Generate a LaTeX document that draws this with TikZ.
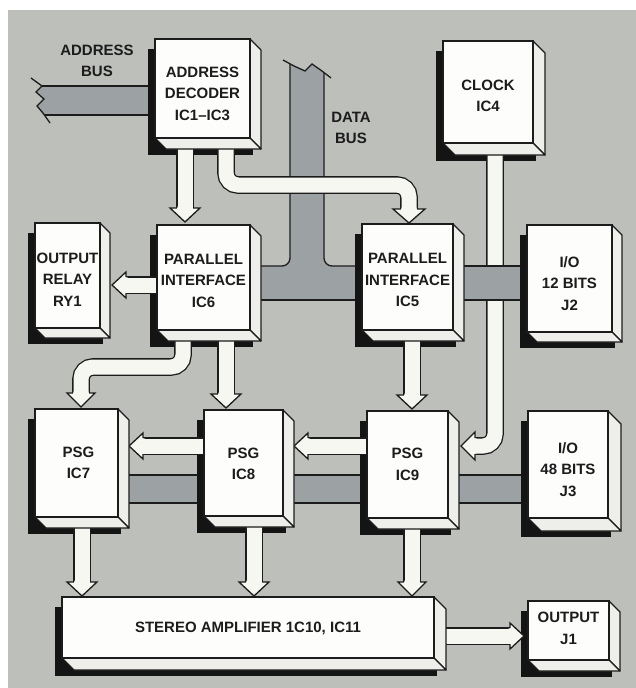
\documentclass[tikz,border=0pt]{standalone}
\usepackage{fontspec}
\setmainfont{Liberation Sans}
\usetikzlibrary{fit}
\pgfdeclarelayer{back}
\pgfdeclarelayer{bus}
\pgfdeclarelayer{shad}
\pgfdeclarelayer{arr}
\pgfsetlayers{back,bus,shad,arr,main}
\definecolor{bgc}{RGB}{189,191,187}
\definecolor{busc}{RGB}{156,162,164}
\definecolor{facec}{RGB}{253,253,251}
\definecolor{sidec}{RGB}{238,238,234}
\definecolor{arrc}{RGB}{247,247,241}
\definecolor{inkc}{RGB}{28,28,28}
\tikzset{
 front/.style={fill=facec, draw=inkc, line width=1.3pt, inner sep=0pt, outer sep=0pt},
 face/.style={fill=sidec, draw=inkc, line width=1.2pt, line join=round},
 lbl/.style={font=\bfseries\fontsize{15}{21.5}\selectfont, align=center, text=inkc, inner sep=0pt},
 busline/.style={draw=inkc, line width=1.3pt},
 pipe/.style={draw=inkc, line width=1.3pt, double=arrc, double distance=15pt, rounded corners=12pt},
 headline/.style={draw=inkc, line width=1.3pt, line join=miter},
}
% #1 name, #2 x1, #3 y1, #4 x2, #5 y2, #6 depth
\newcommand\chip[6]{%
  \begin{pgfonlayer}{shad}
    \fill[black!92] (#2-7,#3+10) rectangle (#4+3,#5+#6+6);
  \end{pgfonlayer}
  \filldraw[face] (#4,#3) -- (#4+#6,#3+#6) -- (#4+#6,#5+#6) -- (#4,#5) -- cycle;
  \filldraw[face] (#2,#5) -- (#4,#5) -- (#4+#6,#5+#6) -- (#2+#6,#5+#6) -- cycle;
  \node[front, fit={(#2,#3) (#4,#5)}] (#1) {};
}
% #1 tip, #2 rotation, #3 half width, #4 length
\newcommand\fhead[4]{%
  \path (#1) coordinate (fhtip);
  \begin{scope}[shift={(fhtip)}, rotate=#2]
    \fill[arrc] (-7.7,-#4-1.5) -- (-7.7,-#4) -- (-#3,-#4) -- (0,0) -- (#3,-#4) -- (7.7,-#4) -- (7.7,-#4-1.5) -- cycle;
    \draw[headline] (-8.15,-#4) -- (-#3,-#4) -- (0,0) -- (#3,-#4) -- (8.15,-#4);
  \end{scope}}
\begin{document}
\begin{tikzpicture}[x=1pt,y=-1pt]
\useasboundingbox (0,0) rectangle (636,688);
\begin{pgfonlayer}{back}
  \fill[white] (0,0) rectangle (636,688);
  \fill[bgc] (8,10) rectangle (636,688);
\end{pgfonlayer}
% ---------------- buses ----------------
\begin{pgfonlayer}{bus}
  % address bus
  \fill[busc] (42,86) -- (156,86) -- (156,115) -- (43,115) -- (37,106) -- (44,99) -- (36,92) -- cycle;
  \draw[busline] (42,86) -- (156,86) (45,115) -- (156,115);
  \draw[busline] (31,78) -- (42,86) -- (36,92) -- (44,99) -- (37,106) -- (43,113) -- (50,123);
  % data bus
  \fill[busc, rounded corners=8pt] (290,120) -- (290,266) -- (252,266) -- (252,300) -- (535,300) -- (535,266) -- (324,266) -- (324,120) -- cycle;
  \fill[busc] (290,65) -- (294,66) -- (305,71) -- (312,64) -- (322,71) -- (324,72.5) -- (324,130) -- (290,130) -- cycle;
  \draw[busline, rounded corners=8pt] (290,64) -- (290,266) -- (252,266);
  \draw[busline, rounded corners=8pt] (324,73) -- (324,266) -- (535,266);
  \draw[busline] (252,300) -- (535,300);
  \draw[busline] (283,60) -- (294,66) -- (305,71) -- (312,64) -- (322,71) -- (331,78);
  % PSG bus
  \fill[busc] (122,475) rectangle (530,503);
  \draw[busline] (122,475) -- (530,475) (122,503) -- (530,503);
\end{pgfonlayer}
% ---------------- chips ----------------
\chip{dec}{155}{39}{250}{138}{11}
\chip{clk}{443}{41}{533}{143}{12}
\chip{rly}{35}{223}{100}{328}{10}
\chip{ic6}{157}{225}{250}{330}{11}
\chip{ic5}{362}{224}{453}{330}{11}
\chip{j2}{527}{225}{612}{332}{10}
\chip{ic7}{35}{409}{118}{517}{11}
\chip{ic8}{204}{410}{283}{516}{11}
\chip{ic9}{367}{411}{448}{518}{11}
\chip{j3}{528}{411}{608}{518}{13}
\chip{amp}{62}{597}{434}{658}{12}
\chip{j1}{528}{601}{609}{660}{11}
% ---------------- arrows ----------------
\begin{pgfonlayer}{arr}
  % clock -> IC9 (passes under the I/O bus)
  \draw[pipe] ([xshift=52pt]clk.south west) |- ([xshift=27pt,yshift=-35pt]ic9.north east);
  \fhead{[xshift=13pt,yshift=-35pt]ic9.north east}{-90}{14}{14}
  \fill[busc] (462,266) rectangle (520,300);
  \draw[busline] (462,266) -- (520,266) (462,300) -- (520,300);
  % decoder -> IC6
  \draw[pipe] ([xshift=30pt]dec.south west) -- ([xshift=28pt,yshift=17pt]ic6.north west);
  \fhead{[xshift=28pt,yshift=3pt]ic6.north west}{0}{15}{14}
  % decoder -> IC5
  \draw[pipe] ([xshift=71pt]dec.south west) -- ++(0,47) -| ([xshift=47pt,yshift=15pt]ic5.north west);
  \fhead{[xshift=47pt,yshift=1pt]ic5.north west}{0}{16}{14}
  % IC6 -> relay
  \draw[pipe] ([yshift=-60pt]ic6.north west) -- ([xshift=91pt,yshift=-62pt]rly.north west);
  \fhead{[xshift=77pt,yshift=-62pt]rly.north west}{-90}{13}{14}
  % IC6 -> IC7
  \draw[pipe] ([xshift=26pt]ic6.south west) -- ++(0,37) -| ([xshift=46pt,yshift=16pt]ic7.north west);
  \fhead{[xshift=46pt,yshift=2pt]ic7.north west}{0}{14}{14}
  % IC6 -> IC8
  \draw[pipe] ([xshift=69pt]ic6.south west) -- ([xshift=22pt,yshift=16pt]ic8.north west);
  \fhead{[xshift=22pt,yshift=2pt]ic8.north west}{0}{15}{14}
  % IC5 -> IC9
  \draw[pipe] ([xshift=50pt]ic5.south west) -- ([xshift=45pt,yshift=16pt]ic9.north west);
  \fhead{[xshift=45pt,yshift=2pt]ic9.north west}{0}{15}{14}
  % IC9 -> IC8
  \draw[pipe] ([yshift=-35pt]ic9.north west) -- ([xshift=25pt,yshift=-36pt]ic8.north east);
  \fhead{[xshift=11pt,yshift=-36pt]ic8.north east}{-90}{13}{14}
  % IC8 -> IC7
  \draw[pipe] ([yshift=-36pt]ic8.north west) -- ([xshift=25pt,yshift=-37pt]ic7.north east);
  \fhead{[xshift=11pt,yshift=-37pt]ic7.north east}{-90}{13}{14}
  % PSGs -> amplifier
  \draw[pipe] ([xshift=47pt]ic7.south west) -- ([xshift=20pt,yshift=15pt]amp.north west);
  \fhead{[xshift=20pt,yshift=1pt]amp.north west}{0}{15}{14}
  \draw[pipe] ([xshift=50pt]ic8.south west) -- ([xshift=192pt,yshift=15pt]amp.north west);
  \fhead{[xshift=192pt,yshift=1pt]amp.north west}{0}{15}{14}
  \draw[pipe] ([xshift=45pt]ic9.south west) -- ([xshift=350pt,yshift=15pt]amp.north west);
  \fhead{[xshift=350pt,yshift=1pt]amp.north west}{0}{14}{14}
  % amplifier -> output
  \draw[pipe] ([yshift=-39pt]amp.north east) -- ([xshift=-18pt,yshift=-35pt]j1.north west);
  \fhead{[xshift=-4pt,yshift=-35pt]j1.north west}{90}{13}{14}
\end{pgfonlayer}
% ---------------- labels ----------------
\node[lbl] (albl) at (97,61) {ADDRESS\\BUS};
\node[lbl] (dlbl) at (351,128) {DATA\\BUS};
\node[lbl] at ([yshift=-5pt]dec.center) {ADDRESS\\DECODER\\IC1–IC3};
\node[lbl] at ([yshift=-4pt]clk.center) {CLOCK\\IC4};
\node[lbl] at ([yshift=-4pt]rly.center) {OUTPUT\\RELAY\\RY1};
\node[lbl] at ([yshift=-3pt]ic6.center) {PARALLEL\\INTERFACE\\IC6};
\node[lbl] at ([yshift=-3pt]ic5.center) {PARALLEL\\INTERFACE\\IC5};
\node[lbl] at ([yshift=-5pt]j2.center) {I/O\\12 BITS\\J2};
\node[lbl] at ([xshift=2pt]ic7.center) {PSG\\IC7};
\node[lbl] at ([yshift=-1pt]ic8.center) {PSG\\IC8};
\node[lbl] at (ic9.center) {PSG\\IC9};
\node[lbl] at ([yshift=-5pt]j3.center) {I/O\\48 BITS\\J3};
\node[lbl] at ([yshift=-1pt]amp.center) {STEREO AMPLIFIER 1C10, IC11};
\node[lbl] at ([yshift=2pt]j1.center) {OUTPUT\\J1};
\end{tikzpicture}
\end{document}
